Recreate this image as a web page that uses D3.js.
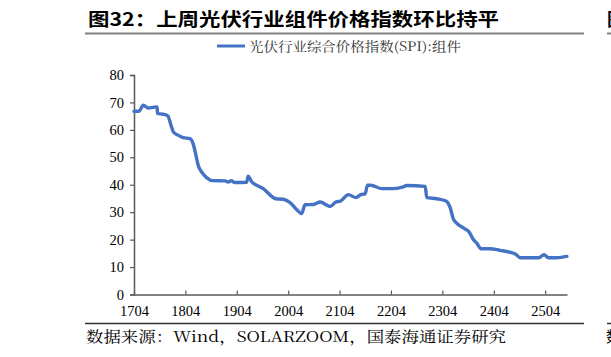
<!DOCTYPE html>
<html><head><meta charset="utf-8">
<script src="https://cdn.jsdelivr.net/npm/d3@7"></script>
<style>html,body{margin:0;padding:0;background:#fff;overflow:hidden}</style>
</head><body>
<svg id="c" width="611" height="357"></svg>
<script>
const titleText = "图32：上周光伏行业组件价格指数环比持平";
const legendText = "光伏行业综合价格指数(SPI):组件";
const sourceText = "数据来源：Wind，SOLARZOOM，国泰海通证券研究";
const dates = ["2017-04-01","2017-05-06","2017-06-06","2017-07-09","2017-08-14","2017-09-12","2017-09-15","2017-10-26","2017-11-27","2017-12-20","2018-01-06","2018-02-11","2018-03-16","2018-05-03","2018-05-26","2018-06-13","2018-07-01","2018-07-29","2018-08-30","2018-10-09","2019-01-08","2019-02-01","2019-02-20","2019-03-18","2019-06-10","2019-06-21","2019-07-15","2019-10-06","2020-01-05","2020-02-26","2020-04-14","2020-06-01","2020-07-06","2020-07-29","2020-09-27","2020-11-14","2021-01-24","2021-03-06","2021-04-09","2021-06-02","2021-07-27","2021-08-30","2021-09-30","2021-10-16","2021-11-09","2022-01-27","2022-04-18","2022-06-28","2022-07-22","2022-11-30","2022-12-12","2023-02-22","2023-04-27","2023-05-25","2023-06-18","2023-07-16","2023-08-28","2023-10-10","2023-11-04","2023-12-02","2024-01-02","2024-03-05","2024-05-15","2024-07-25","2024-09-01","2024-10-06","2025-02-14","2025-03-24","2025-04-24","2025-06-22","2025-09-02"];
const values = [66.8,66.8,69.0,68.0,68.2,68.4,66.0,65.7,65.1,61.7,59.2,58.0,57.2,56.8,55.0,51.3,47.1,44.4,42.6,41.5,41.4,41.0,41.5,40.8,40.9,43.1,41.2,38.6,34.9,34.7,33.5,30.9,29.5,32.7,32.8,33.7,32.1,33.7,34.1,36.4,35.3,36.4,36.7,39.8,39.8,38.6,38.6,39.2,39.7,39.4,35.3,34.9,34.1,31.9,27.6,25.8,24.3,22.7,20.3,18.7,16.7,16.7,16.1,15.4,14.8,13.4,13.4,14.5,13.4,13.4,13.9];
const xTickLabels = ["1704","1804","1904","2004","2104","2204","2304","2404","2504"];
const yTicks = [0,10,20,30,40,50,60,70,80];

const parse = d3.timeParse("%Y-%m-%d");
const data = dates.map((d,i)=>({date:parse(d), v:values[i]}));
const svg = d3.select("#c");
const pL=134, pR=567, pT=75, pB=294.5;
const x = d3.scaleTime().domain([parse("2017-04-01"), parse("2025-09-03")]).range([pL,pR]);
const y = d3.scaleLinear().domain([0,80]).range([pB, pT]);
const axisColor = "#595959";

// title
svg.append("text").attr("x",88).attr("y",26).attr("font-family","'Noto Sans CJK SC'").attr("font-weight","bold")
  .attr("font-size",18).attr("fill","#000").attr("textLength",411).attr("lengthAdjust","spacingAndGlyphs").text(titleText);
svg.append("line").attr("x1",85).attr("x2",584).attr("y1",33.5).attr("y2",33.5).attr("stroke","#808080").attr("stroke-width",2);
svg.append("text").attr("x",607).attr("y",26).attr("font-family","'Noto Sans CJK SC'").attr("font-weight","bold").attr("font-size",18).text("图");
svg.append("line").attr("x1",607).attr("x2",611).attr("y1",33.5).attr("y2",33.5).attr("stroke","#808080").attr("stroke-width",2);

// legend
svg.append("line").attr("x1",217).attr("x2",245).attr("y1",46).attr("y2",46).attr("stroke","#4472C4").attr("stroke-width",3);
svg.append("text").attr("x",249).attr("y",50.5).attr("font-family","'Noto Serif CJK SC','Noto Sans CJK SC'").attr("font-size",13)
  .attr("fill","#333").attr("textLength",212).attr("lengthAdjust","spacingAndGlyphs").text(legendText);

// y axis
const yAxis = d3.axisLeft(y).tickValues(yTicks).tickSize(4).tickPadding(6);
const gy = svg.append("g").attr("transform",`translate(${pL},0)`).call(yAxis);
gy.select(".domain").attr("stroke",axisColor).attr("stroke-width",1.5);
gy.selectAll(".tick line").attr("stroke",axisColor).attr("stroke-width",1.2);
gy.selectAll("text").attr("font-family","'Liberation Serif'").attr("font-size",14.5).attr("fill","#000");

// x axis
const tickDates = xTickLabels.map(s=>parse("20"+s.slice(0,2)+"-"+s.slice(2)+"-01"));
const xAxis = d3.axisBottom(x).tickValues(tickDates).tickSizeInner(-4).tickSizeOuter(0).tickPadding(11)
  .tickFormat((d,i)=>xTickLabels[i]);
const gx = svg.append("g").attr("transform",`translate(0,${pB})`).call(xAxis);
gx.select(".domain").attr("stroke",axisColor).attr("stroke-width",1.5);
gx.selectAll(".tick line").attr("stroke",axisColor).attr("stroke-width",1.2);
gx.selectAll("text").attr("font-family","'Liberation Serif'").attr("font-size",14.5).attr("fill","#000");

// line
const line = d3.line().x(d=>x(d.date)).y(d=>y(d.v)).curve(d3.curveMonotoneX);
svg.append("path").datum(data).attr("d",line).attr("fill","none").attr("stroke","#4472C4")
  .attr("stroke-width",3.4).attr("stroke-linejoin","round").attr("stroke-linecap","round");

// footer
svg.append("line").attr("x1",85).attr("x2",584).attr("y1",323.5).attr("y2",323.5).attr("stroke","#333").attr("stroke-width",1.5);
svg.append("line").attr("x1",607).attr("x2",611).attr("y1",323.5).attr("y2",323.5).attr("stroke","#333").attr("stroke-width",1.5);
svg.append("text").attr("x",86).attr("y",342).attr("font-family","'Noto Serif CJK SC','Liberation Serif','Noto Sans CJK SC'").attr("font-size",15)
  .attr("fill","#000").attr("textLength",420).attr("lengthAdjust","spacingAndGlyphs").text(sourceText);
svg.append("text").attr("x",606).attr("y",342).attr("font-family","'Noto Sans CJK SC'").attr("font-size",15).text("数");
</script>
</body></html>
